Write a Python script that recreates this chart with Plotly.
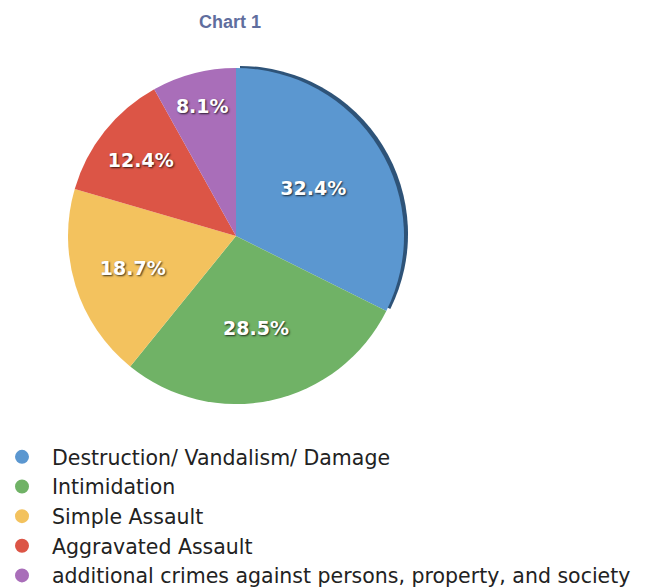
import plotly.graph_objects as go

categories = ["Destruction/ Vandalism/ Damage", "Intimidation", "Simple Assault",
              "Aggravated Assault", "additional crimes against persons, property, and society"]
values = [32.4, 28.5, 18.7, 12.4, 8.1]
colors = ["#5B97D0", "#70B266", "#F3C25E", "#DC5546", "#A96EB9"]
shadow_colors = ["#2E5378", "rgba(0,0,0,0)", "rgba(0,0,0,0)", "rgba(0,0,0,0)", "rgba(0,0,0,0)"]

W, H = 666, 587
cx, cy, r = 236, 236, 168

def dom(cx, cy, r):
    return dict(x=[(cx - r) / W, (cx + r) / W], y=[(H - cy - r) / H, (H - cy + r) / H])

fig = go.Figure()
# dark rim (shadow) behind the pie
fig.add_trace(go.Pie(values=values, labels=categories, sort=False, direction="clockwise",
                     rotation=0, marker=dict(colors=shadow_colors, line=dict(width=0)),
                     textinfo="none", hoverinfo="skip", showlegend=False,
                     domain=dom(cx + 4, cy - 2, r)))
fig.add_trace(go.Pie(values=values, labels=categories, sort=False, direction="clockwise",
                     rotation=0, marker=dict(colors=colors, line=dict(width=0)),
                     texttemplate="%{value:.1f}%", textposition="inside",
                     insidetextorientation="horizontal",
                     textfont=dict(family="DejaVu Sans", size=19, weight="bold", color="white",
                                   shadow="1px 1px 2px rgba(0,0,0,0.75)"),
                     showlegend=False, domain=dom(cx, cy, r)))

for i, (c, col) in enumerate(zip(categories, colors)):
    fig.add_trace(go.Scatter(x=[None], y=[None], mode="markers", name=c,
                             legendgroup=str(i),
                             marker=dict(symbol="circle", size=16, color=col,
                                         line=dict(width=2, color=col))))

fig.update_layout(
    width=W, height=H,
    margin=dict(l=0, r=0, t=0, b=0, autoexpand=False),
    paper_bgcolor="white", plot_bgcolor="white",
    xaxis=dict(visible=False), yaxis=dict(visible=False),
    title=dict(text="<b>Chart 1</b>", x=230 / W, xanchor="center", y=1 - 22 / H, yanchor="middle",
               font=dict(family="Liberation Sans, Arial", size=18, color="#5F6E9E")),
    legend=dict(x=-8 / W, xanchor="left", y=1 - 437 / H, yanchor="top",
                font=dict(family="DejaVu Sans", size=20.5, color="#222222"),
                tracegroupgap=0, itemwidth=50, itemsizing="constant", bgcolor="rgba(0,0,0,0)"),
)
fig.write_html("out.html")
